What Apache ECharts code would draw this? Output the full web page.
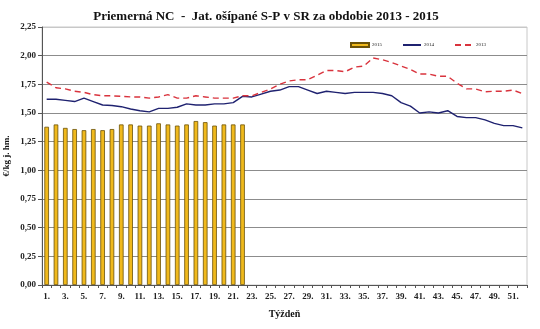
<!DOCTYPE html>
<html>
<head>
<meta charset="utf-8">
<script src="https://cdn.jsdelivr.net/npm/echarts@6/dist/echarts.min.js"></script>
<style>
  html, body { margin: 0; padding: 0; background: #fff; }
  #chart { width: 540px; height: 329px; }
</style>
</head>
<body>
<div id="chart"></div>
<script>
// Weeks 1..52
const weeks = Array.from({ length: 52 }, (_, i) => (i + 1) + '.');

// Average price, €/kg live weight
const price2015 = [1.38, 1.40, 1.37, 1.36, 1.35, 1.36, 1.35, 1.36, 1.40, 1.40,
  1.39, 1.39, 1.41, 1.40, 1.39, 1.40, 1.43, 1.42, 1.39, 1.40, 1.40, 1.40];

const price2014 = [1.62, 1.62, 1.61, 1.60, 1.63, 1.60, 1.57, 1.565, 1.555, 1.535,
  1.52, 1.51, 1.54, 1.54, 1.55, 1.58, 1.57, 1.57, 1.58, 1.58,
  1.59, 1.645, 1.64, 1.665, 1.69, 1.70, 1.73, 1.73, 1.70, 1.67,
  1.69, 1.68, 1.67, 1.68, 1.68, 1.68, 1.67, 1.65, 1.59, 1.56,
  1.50, 1.51, 1.50, 1.52, 1.47, 1.46, 1.46, 1.44, 1.41, 1.39,
  1.39, 1.37];

const price2013 = [1.77, 1.72, 1.71, 1.69, 1.68, 1.66, 1.65, 1.65, 1.645, 1.64,
  1.64, 1.63, 1.64, 1.66, 1.63, 1.63, 1.65, 1.64, 1.63, 1.63,
  1.63, 1.65, 1.65, 1.68, 1.71, 1.75, 1.78, 1.79, 1.79, 1.83,
  1.87, 1.87, 1.86, 1.90, 1.91, 1.98, 1.965, 1.94, 1.91, 1.88,
  1.84, 1.84, 1.82, 1.82, 1.76, 1.71, 1.71, 1.685, 1.69, 1.69,
  1.70, 1.67];

const yTicks = [0, 0.25, 0.5, 0.75, 1, 1.25, 1.5, 1.75, 2, 2.25];

const serif = '"Liberation Serif", "Times New Roman", serif';

const chart = echarts.init(document.getElementById('chart'), null, { renderer: 'canvas' });

// split lines: darker gray, topmost one lighter
const splitColors = yTicks.map((v, i) => i === yTicks.length - 1 ? '#c8c8c8' : '#8c8c8c');

// legend entry for a line series: line only, no marker
const lineOnly = { itemStyle: { color: 'transparent', borderWidth: 0, opacity: 0 } };

chart.setOption({
  animation: false,
  backgroundColor: '#ffffff',
  title: {
    text: 'Priemerná NC  -  Jat. ošípané S-P v SR za obdobie 2013 - 2015',
    left: 261,
    textAlign: 'center',
    top: 5,
    textStyle: { fontFamily: serif, fontWeight: 'bold', fontSize: 13, color: '#111' }
  },
  legend: {
    left: 345,
    top: 37,
    itemWidth: 18,
    itemHeight: 4,
    itemGap: 20,
    textStyle: { fontFamily: serif, fontSize: 5, color: '#222', padding: [0, 0, 0, -2] },
    data: [
      { name: '2015', icon: 'rect' },
      Object.assign({ name: '2014' }, lineOnly),
      Object.assign({ name: '2013' }, lineOnly)
    ]
  },
  grid: {
    left: 42,
    right: 13,
    top: 27,
    bottom: 44,
    outerBoundsMode: 'none',
    containLabel: false,
    show: true,
    borderColor: '#c8c8c8',
    borderWidth: 1
  },
  xAxis: {
    type: 'category',
    data: weeks,
    name: 'Týždeň',
    nameLocation: 'middle',
    nameGap: 24,
    nameMoveOverlap: false,
    nameTextStyle: { fontFamily: serif, fontWeight: 'bold', fontSize: 10, color: '#111' },
    axisLine: { lineStyle: { color: '#555', width: 1 } },
    axisTick: { show: true, interval: 0, length: 3, lineStyle: { color: '#555' } },
    axisLabel: {
      interval: 1,
      fontFamily: serif,
      fontWeight: 'bold',
      fontSize: 9,
      color: '#222',
      margin: 7
    },
    splitLine: { show: false }
  },
  yAxis: {
    type: 'value',
    min: 0,
    max: 2.25,
    interval: 0.25,
    name: '€/kg j. hm.',
    nameLocation: 'middle',
    nameGap: 31,
    nameMoveOverlap: false,
    nameRotate: 90,
    nameTextStyle: { fontFamily: serif, fontWeight: 'bold', fontSize: 9, color: '#111' },
    axisLine: { show: true, lineStyle: { color: '#555', width: 1 } },
    axisTick: { show: true, length: 4, lineStyle: { color: '#555' } },
    axisLabel: {
      fontFamily: serif,
      fontWeight: 'bold',
      fontSize: 9,
      color: '#222',
      margin: 6,
      formatter: v => v.toFixed(2).replace('.', ',')
    },
    splitLine: { show: true, lineStyle: { color: splitColors, width: 1 } }
  },
  series: [
    {
      name: '2015',
      type: 'bar',
      data: price2015,
      barWidth: 4.6,
      itemStyle: { color: '#F0B91C', borderColor: '#6b5208', borderWidth: 0.8 }
    },
    {
      name: '2014',
      type: 'line',
      data: price2014,
      symbol: 'none',
      itemStyle: { color: '#1f2270' },
      lineStyle: { color: '#1f2270', width: 1.4 }
    },
    {
      name: '2013',
      type: 'line',
      data: price2013,
      symbol: 'none',
      itemStyle: { color: '#d9333d' },
      lineStyle: { color: '#d9333d', width: 1.4, type: [6, 4] }
    }
  ]
});
</script>
</body>
</html>
